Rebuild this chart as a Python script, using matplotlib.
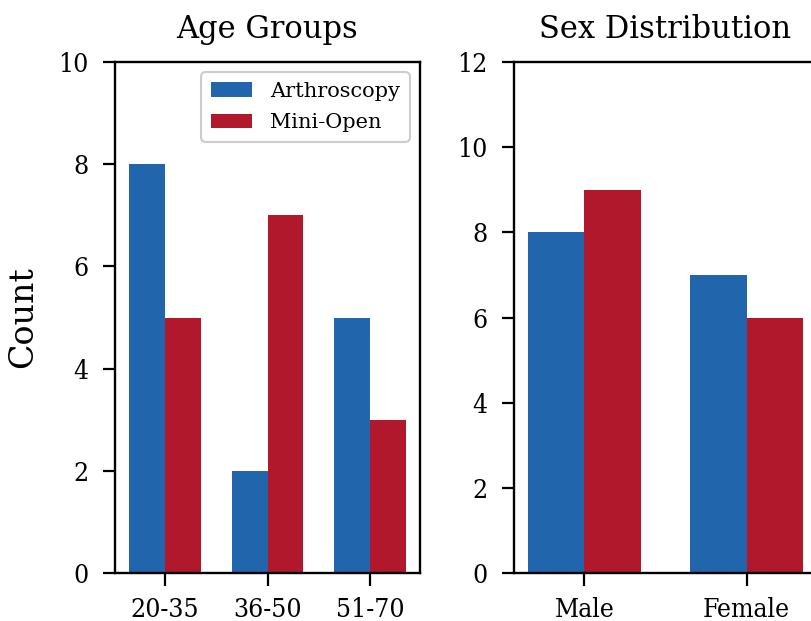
import matplotlib.pyplot as plt
import numpy as np

plt.rcParams['font.family'] = ['DejaVu Serif']

age_groups = ['20-35', '36-50', '51-70']
age_arthro = [8, 2, 5]
age_mini = [5, 7, 3]

sexes = ['Male', 'Female']
sex_arthro = [8, 7]
sex_mini = [9, 6]

blue = '#2166ac'
red = '#b2182b'
w = 0.35

fig = plt.figure(figsize=(8.12, 6.21), dpi=100)
ax1 = fig.add_axes([115 / 812, 48 / 621, 305 / 812, 511 / 621])
ax2 = fig.add_axes([514 / 812, 48 / 621, 303 / 812, 511 / 621])

def style(ax):
    for s in ax.spines.values():
        s.set_linewidth(1.7)
    ax.tick_params(axis='both', length=9, width=1.6, pad=10)
    ax.tick_params(axis='x', pad=8)
    for lab in ax.get_xticklabels() + ax.get_yticklabels():
        lab.set_fontsize(19)
        lab.set_fontstretch('condensed')

x = np.arange(len(age_groups))
ax1.bar(x - w / 2, age_arthro, w, color=blue, label='Arthroscopy')
ax1.bar(x + w / 2, age_mini, w, color=red, label='Mini-Open')
ax1.set_xticks(x)
ax1.set_xticklabels(age_groups)
ax1.set_ylim(0, 10)
ax1.set_yticks([0, 2, 4, 6, 8, 10])
ax1.set_title('Age Groups', fontsize=22, pad=17)
ax1.set_ylabel('Count', fontsize=24, labelpad=14)
leg = ax1.legend(fontsize=15, loc='upper right', framealpha=1, edgecolor='#cccccc',
                 handlelength=2.0, handletextpad=0.85, borderpad=0.45,
                 labelspacing=0.6)
leg.get_frame().set_linewidth(1.5)
style(ax1)

x2 = np.arange(len(sexes))
ax2.bar(x2 - w / 2, sex_arthro, w, color=blue)
ax2.bar(x2 + w / 2, sex_mini, w, color=red)
ax2.set_xticks(x2)
ax2.set_xticklabels(sexes)
ax2.set_ylim(0, 12)
ax2.set_yticks([0, 2, 4, 6, 8, 10, 12])
ax2.set_title('Sex Distribution', fontsize=22, pad=17)
style(ax2)

fig.savefig('out.png', dpi=100)
